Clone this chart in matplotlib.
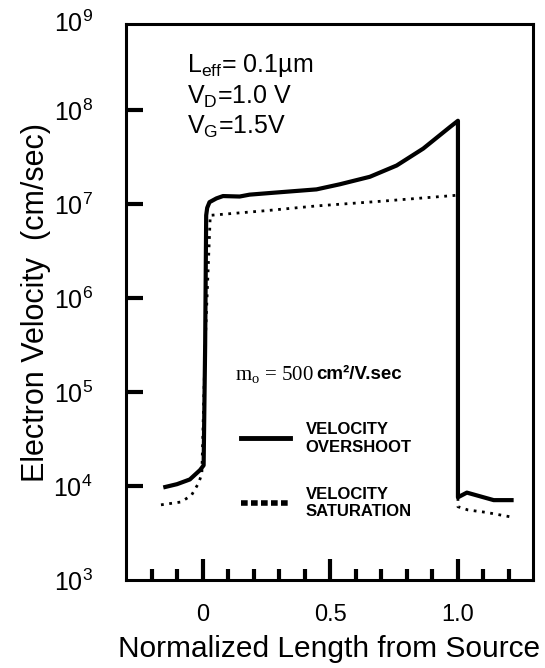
import numpy as np
import matplotlib
matplotlib.use("Agg")
import matplotlib.pyplot as plt
import matplotlib.transforms as mtransforms
from matplotlib.lines import Line2D

plt.rcParams['font.family'] = ['Liberation Sans', 'DejaVu Sans']
plt.rcParams['mathtext.default'] = 'regular'

# velocity overshoot curve (solid), log10 of velocity in cm/sec
x_over = [-0.146, -0.10, -0.05, -0.01, 0.004, 0.010, 0.014, 0.018, 0.027, 0.054,
          0.08, 0.145, 0.184, 0.276, 0.446, 0.537, 0.655, 0.76, 0.864, 0.969,
          1.0, 1.0, 1.035, 1.14, 1.21]
logv_over = [3.99, 4.02, 4.07, 4.17, 4.22, 5.5, 6.88, 6.96, 7.02, 7.06,
             7.085, 7.08, 7.10, 7.12, 7.156, 7.21, 7.29, 7.41, 7.59, 7.82,
             7.886, 3.88, 3.93, 3.85, 3.85]

# velocity saturation curve (dotted)
x_sat = [-0.163, -0.085, -0.044, -0.016, -0.003, 0.010, 0.030, 0.25, 0.446, 0.70,
         0.98, 1.0, 1.0, 1.04, 1.11, 1.21]
logv_sat = [3.80, 3.83, 3.90, 4.03, 4.13, 5.5, 6.88, 6.93, 6.98, 7.03,
            7.09, 7.095, 3.78, 3.745, 3.72, 3.67]

v_over = 10 ** np.array(logv_over)
v_sat = 10 ** np.array(logv_sat)

fig = plt.figure(figsize=(5.45, 6.68), dpi=100)
ax = fig.add_axes([0.2312, 0.1317, 0.7468, 0.8323])

ax.plot(x_sat, v_sat, color='black', lw=2, linestyle=(0, (1, 2)))
ax.plot(x_over, v_over, color='black', lw=3, solid_joinstyle='round')

ax.set_yscale('log')
ax.set_xlim(-0.30, 1.294)
ax.set_ylim(1e3, 10 ** 8.915)

# axes frame and ticks
for s in ax.spines.values():
    s.set_linewidth(2.2)
ax.set_yticks([1e3, 1e4, 1e5, 1e6, 1e7, 1e8])
ax.set_yticklabels(['$10^{%d}$' % k for k in range(3, 9)])
ax.yaxis.set_minor_locator(matplotlib.ticker.NullLocator())
ax.set_xticks([0, 0.5, 1.0])
ax.set_xticklabels(['0', '0.5', '1.0'])
ax.set_xticks(np.arange(-0.2, 1.21, 0.1), minor=True)
ax.tick_params(axis='y', which='major', direction='in', length=12, width=3,
               labelsize=18, pad=24)
ax.tick_params(axis='x', which='major', direction='in', length=15, width=3,
               labelsize=17, pad=17)
ax.tick_params(axis='x', which='minor', direction='in', length=8, width=3)
ax.yaxis.get_major_ticks()[0].tick1line.set_visible(False)
# top label of the decade scale sits at the frame corner
top_lab = mtransforms.offset_copy(ax.transAxes, fig=fig, x=-24, y=0, units='points')
ax.text(0, 1, '$10^{9}$', transform=top_lab, ha='right', va='center', fontsize=18)

ax.set_xlabel('Normalized Length from Source', fontsize=21.5, labelpad=7)
ax.set_ylabel('Electron Velocity  (cm/sec)', fontsize=22, labelpad=2)

# device parameters
ax.text(0.15, 0.926, 'L$_{eff}$= 0.1µm', transform=ax.transAxes, fontsize=18, va='center')
ax.text(0.15, 0.869, 'V$_{D}$=1.0 V', transform=ax.transAxes, fontsize=18, va='center')
ax.text(0.15, 0.815, 'V$_{G}$=1.5V', transform=ax.transAxes, fontsize=18, va='center')

# mobility note
ax.text(0.268, 0.369, 'm$_{o}$ = 500', transform=ax.transAxes, fontsize=15,
        family='Liberation Serif', va='center')
ax.text(0.467, 0.369, 'cm²/V.sec', transform=ax.transAxes, fontsize=13.5,
        fontweight='bold', va='center')

handles = [Line2D([], [], color='black', lw=3.5),
           Line2D([], [], color='black', lw=4, linestyle=(0, (1.2, 0.6)))]
leg = ax.legend(handles, ['VELOCITY\nOVERSHOOT', 'VELOCITY\nSATURATION'],
                loc='upper left', bbox_to_anchor=(0.263, 0.299), frameon=False,
                prop={'weight': 'bold', 'size': 12}, handlelength=2.9,
                handletextpad=0.95, labelspacing=1.95, borderpad=0)

fig.savefig('out.png', dpi=100)
